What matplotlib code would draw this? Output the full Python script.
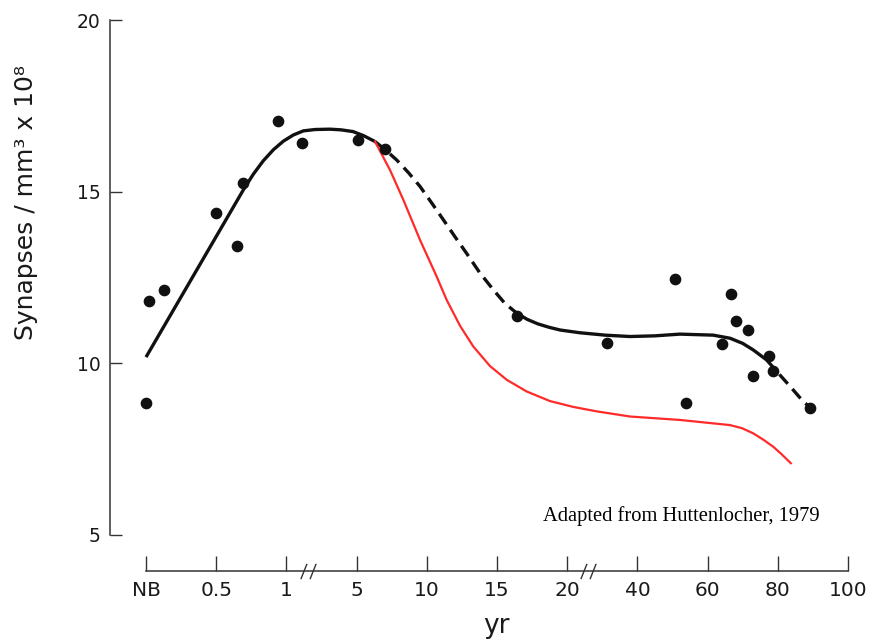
import numpy as np
import matplotlib
matplotlib.use("Agg")
import matplotlib.pyplot as plt
from matplotlib.path import Path
from matplotlib.transforms import blended_transform_factory

plt.rcParams['lines.scale_dashes'] = False
plt.rcParams['font.family'] = ['DejaVu Sans']

# Broken age axis: each labelled age sits at an evenly spaced position
TICK_AGES = [0, 0.5, 1, 5, 10, 15, 20, 40, 60, 80, 100]
TICK_LABELS = ['NB', '0.5', '1', '5', '10', '15', '20', '40', '60', '80', '100']

# Measured synapse densities (age in years, synapses/mm^3 x 10^8)
point_age = [0, 0.02, 0.13, 0.5, 0.65, 0.69, 0.94, 1.9, 5.1, 7.0, 16.4,
             31.2, 50.6, 53.8, 64.2, 66.6, 68.0, 71.4, 73.0, 77.4, 78.6, 89.2]
point_density = [8.85, 11.82, 12.13, 14.37, 13.42, 15.26, 17.07, 16.41, 16.5,
                 16.24, 11.38, 10.6, 12.46, 8.84, 10.55, 12.01, 11.23, 10.97,
                 9.63, 10.21, 9.78, 8.71]

# Fitted trend (black)
fit_age = [0, 0.693, 0.7645, 0.8355, 0.907, 0.978, 1.392, 1.964, 2.628, 3.484,
           4.12, 4.796, 5.5, 6.31, 7.1, 7.86, 8.7, 9.52, 10.35, 11.18, 12.0,
           12.84, 13.75, 14.74, 15.55, 16.41, 17.15, 17.9, 18.7, 19.49, 23.6,
           30.8, 37.9, 45.0, 52.1, 61.6, 66.4, 70.0, 73.0, 76.8, 80.6, 84.0,
           87.3, 89.2]
fit_density = [10.18, 15.05, 15.51, 15.9, 16.22, 16.47, 16.65, 16.77, 16.81,
               16.82, 16.8, 16.75, 16.63, 16.46, 16.2, 15.92, 15.55, 15.15,
               14.67, 14.18, 13.69, 13.2, 12.65, 12.14, 11.75, 11.46, 11.28,
               11.15, 11.05, 10.97, 10.89, 10.82, 10.78, 10.8, 10.85, 10.82,
               10.73, 10.58, 10.39, 10.1, 9.66, 9.27, 8.88, 8.72]
# Age ranges of the fit drawn dashed
dashed_ranges = [(6.31, 16.41), (76.8, 89.2)]

# Accelerated decline (red)
red_age = [6.31, 7.38, 8.33, 9.52, 10.71, 11.41, 12.37, 13.31, 14.5, 15.69,
           17.11, 18.77, 21.7, 28.4, 37.9, 52.1, 66.4, 69.8, 73.0, 75.8, 78.7,
           81.2, 83.7]
red_density = [16.46, 15.63, 14.76, 13.59, 12.52, 11.85, 11.09, 10.49, 9.92,
               9.52, 9.18, 8.9, 8.73, 8.6, 8.45, 8.35, 8.2, 8.11, 7.96, 7.78,
               7.57, 7.34, 7.09]

# Piecewise-linear scale mapping age -> evenly spaced position
ext_age = np.array([-100.0] + TICK_AGES + [1100.0])
ext_pos = np.array([-200.0] + list(range(len(TICK_AGES))) + [60.0])


def age_to_pos(a):
    return np.interp(a, ext_age, ext_pos)


def pos_to_age(p):
    return np.interp(p, ext_pos, ext_age)


fig = plt.figure(figsize=(8.8, 6.42), dpi=100)
ax = fig.add_axes([110 / 880, 1 - 571 / 642, 750 / 880, 551 / 642])
ax.set_xscale('function', functions=(age_to_pos, pos_to_age))
ax.set_xlim(pos_to_age(-0.513), pos_to_age(10.171))
ax.set_ylim(3.95, 20)

ink = '#111111'
fa = np.array(fit_age)
fd = np.array(fit_density)
breaks = sorted({fa[0], fa[-1]} | {b for r in dashed_ranges for b in r})
for lo, hi in zip(breaks[:-1], breaks[1:]):
    m = (fa >= lo) & (fa <= hi)
    dashed = any(abs(lo - r[0]) < 1e-9 for r in dashed_ranges)
    ax.plot(fa[m], fd[m], color=ink, lw=2.4, solid_capstyle='butt',
            dash_capstyle='butt', solid_joinstyle='round',
            linestyle=(0, (9, 5)) if dashed else '-')

ax.plot(red_age, red_density, color='#ff2a2a', lw=1.6,
        solid_joinstyle='round')
ax.plot(point_age, point_density, 'o', color=ink, ms=7.4, mec=ink)

for side in ('top', 'right'):
    ax.spines[side].set_visible(False)
ax.spines['left'].set_bounds(5, 20)
ax.spines['bottom'].set_bounds(0, 100)
for side in ('left', 'bottom'):
    ax.spines[side].set_linewidth(1.1)
    ax.spines[side].set_color('#333333')

ax.set_xticks(TICK_AGES, TICK_LABELS, fontsize=14.5)
ax.set_yticks([5, 10, 15, 20], ['5', '10', '15', '20'], fontsize=13.5)
ax.minorticks_off()
ax.tick_params(axis='x', direction='in', length=10.5, width=1, pad=7,
               color='#333333', labelcolor='#1a1a1a')
ax.tick_params(axis='y', direction='in', length=8.5, width=1, pad=7,
               color='#333333', labelcolor='#1a1a1a')

# Axis-break slashes on the age axis
slash = Path([(-1.0, -1.0), (-0.2, 1.0), (0.2, -1.0), (1.0, 1.0)],
             [Path.MOVETO, Path.LINETO, Path.MOVETO, Path.LINETO])
blend = blended_transform_factory(ax.transData, ax.transAxes)
ax.plot([2.23, 26.0], [0, 0], linestyle='none', marker=slash, ms=11,
        mec='#333333', mew=1.0, transform=blend, clip_on=False)

fig.text(26 / 880, 1 - 203 / 642, 'Synapses / mm³ x 10⁸', rotation=90,
         ha='center', va='center', fontsize=18, color='#1a1a1a')
fig.text(496 / 880, 1 - 626 / 642, 'yr', ha='center', va='center',
         fontsize=19, color='#1a1a1a')
fig.text(543 / 880, 1 - 516 / 642, 'Adapted from Huttenlocher, 1979',
         ha='left', va='center', fontsize=14.8, family='Liberation Serif')

fig.savefig('out.png', dpi=100)
